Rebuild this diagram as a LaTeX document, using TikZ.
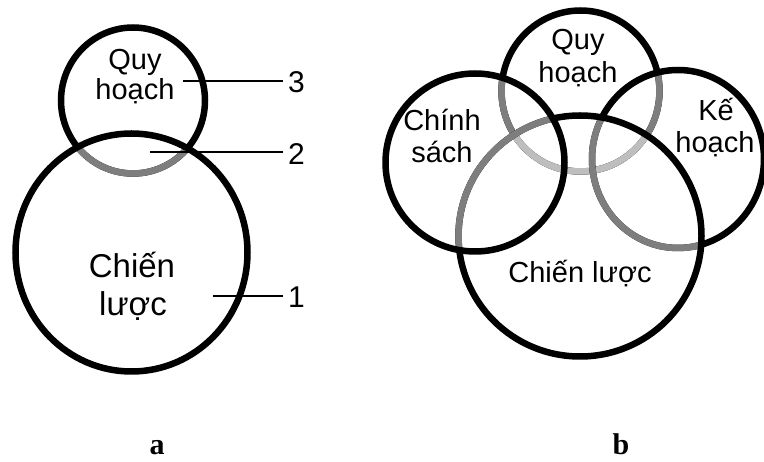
\documentclass[tikz,border=0pt]{standalone}
\usepackage{fontspec}
\setmainfont{Liberation Sans}
\newfontfamily\labelfont{Liberation Serif}
\definecolor{midgray}{HTML}{7E7E7E}
\definecolor{lightgray}{HTML}{BEBEBE}
\begin{document}
\begin{tikzpicture}[x=1pt,y=-1pt,
  ring/.style={line width=6.5pt},
  txt/.style={anchor=base,inner sep=0pt,font=\fontsize{29}{32}\selectfont},
  bigtxt/.style={anchor=base,inner sep=0pt,font=\fontsize{33}{38}\selectfont},
  num/.style={anchor=west,inner xsep=5pt,inner ysep=0pt,font=\fontsize{30}{33}\selectfont},
  leader/.style={line width=2pt},
  panel/.style={anchor=base,inner sep=0pt,font=\labelfont\bfseries\fontsize{30}{34}\selectfont}]
\useasboundingbox (0,0) rectangle (764,462);
% ---------- panel a ----------
\def\QA{(133,100.5) ellipse [x radius=72, y radius=73]}
\def\CA{(131.5,252.5) ellipse [x radius=116, y radius=119]}
\draw[ring] \QA;
\begin{scope}\clip \CA; \draw[ring,midgray] \QA; \end{scope}
\draw[ring] \CA;
\node[txt] (qa1) at (135,70) {Quy};
\node[txt] (qa2) at (135,100) {hoạch};
\node[bigtxt] (ca1) at (132,278) {Chiến};
\node[bigtxt] (ca2) at (133,316) {lược};
\coordinate (l3) at (183,81);
\coordinate (l2) at (150,152);
\coordinate (l1) at (213,296);
\node[num] (n3) at (283,82.5) {3};
\node[num] (n2) at (283,154.5) {2};
\node[num] (n1) at (283,297.5) {1};
\draw[leader] (l3) -- (l3 -| n3.west);
\draw[leader] (l2) -- (l2 -| n2.west);
\draw[leader] (l1) -- (l1 -| n1.west);
% ---------- panel b ----------
\def\QB{(580.5,91) ellipse [x radius=79, y radius=80.5]}
\def\CS{(475,162.5) ellipse [x radius=89.5, y radius=89]}
\def\KH{(678,159) ellipse [x radius=86, y radius=89]}
\def\CL{(580,236) ellipse [x radius=121.5, y radius=120.5]}
\draw[ring] \QB;
\begin{scope}\clip \CS; \draw[ring,midgray] \QB; \end{scope}
\begin{scope}\clip \KH; \draw[ring,midgray] \QB; \end{scope}
\begin{scope}\clip \CL; \draw[ring,lightgray] \QB; \end{scope}
\draw[ring] \KH;
\begin{scope}\clip \CL; \draw[ring,midgray] \KH; \end{scope}
\draw[ring] \CL;
\begin{scope}\clip \CS; \draw[ring,midgray] \CL; \end{scope}
\draw[ring] \CS;
\node[txt] (qb1) at (578,50) {Quy};
\node[txt] (qb2) at (578,83) {hoạch};
\node[txt] (cs1) at (442,131) {Chính};
\node[txt] (cs2) at (442,163) {sách};
\node[txt] (kh1) at (716,121) {Kế};
\node[txt] (kh2) at (715,153) {hoạch};
\node[txt] (cl) at (580,283) {Chiến lược};
% ---------- panel labels ----------
\node[panel] (pa) at (157,455) {a};
\node[panel] (pb) at (621,455) {b};
\end{tikzpicture}
\end{document}
